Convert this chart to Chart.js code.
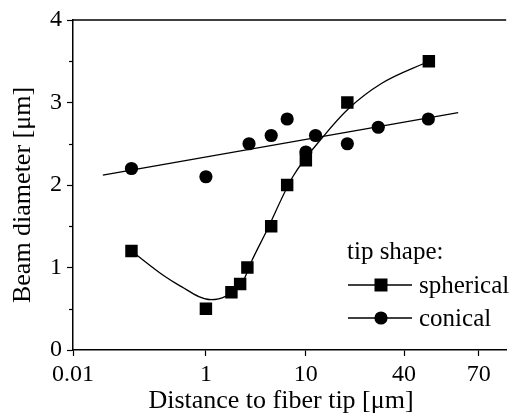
<!DOCTYPE html>
<html>
<head>
<meta charset="utf-8">
<script src="https://cdn.jsdelivr.net/npm/chart.js@4.4.0/dist/chart.umd.min.js"></script>
<style>
  html, body { margin: 0; padding: 0; background: #fff; }
  #wrap { width: 515px; height: 414px; }
</style>
</head>
<body>
<div id="wrap"><canvas id="myChart" width="515" height="414"></canvas></div>
<script>
// measured points, distance in um (log axis)
const sphericalX = [0.18, 1.0, 1.8, 2.2, 2.6, 4.5, 6.5, 10, 26, 170];
const sphericalY = [1.2, 0.5, 0.7, 0.8, 1.0, 1.5, 2.0, 2.3, 3.0, 3.5];
const conicalX = [0.18, 1.0, 2.7, 4.5, 6.5, 10, 12.5, 26, 53, 168];
const conicalY = [2.2, 2.1, 2.5, 2.6, 2.8, 2.4, 2.6, 2.5, 2.7, 2.8];

// fit curves
const sphFitX = [0.18, 0.39, 0.53, 1.12, 1.57, 2.3, 2.9, 4.0, 7.4, 15, 27, 57, 170];
const sphFitY = [1.2, 0.89, 0.79, 0.61, 0.65, 0.81, 1.09, 1.43, 2.1, 2.59, 2.93, 3.23, 3.5];
const conFitX = [0.093, 334];
const conFitY = [2.12, 2.876];

// x tick positions and the labels printed under them
const xTickValues = [0.0468, 1, 10, 96, 538];
const xTickLabels = ["0.01", "1", "10", "40", "70"];
const yMinorTicks = [0.5, 1.5, 2.5, 3.5];

const xTitle = "Distance to fiber tip [μm]";
const yTitle = "Beam diameter [μm]";
const legendTitle = "tip shape:";

const FONT = "'Liberation Serif', 'Times New Roman', serif";

const toPoints = (xs, ys) => xs.map((x, i) => ({ x: x, y: ys[i] }));

// top frame line, minor y ticks, axis titles and the legend
const extras = {
  id: "extras",
  afterDraw(chart) {
    const ctx = chart.ctx;
    const area = chart.chartArea;
    const yScale = chart.scales.y;
    ctx.save();
    ctx.strokeStyle = "#000";
    ctx.lineWidth = 1.5;
    ctx.beginPath();
    ctx.moveTo(area.left, area.top);
    ctx.lineTo(area.right, area.top);
    ctx.stroke();

    ctx.lineWidth = 1.2;
    yMinorTicks.forEach((v) => {
      const py = Math.round(yScale.getPixelForValue(v)) + 0.5;
      ctx.beginPath();
      ctx.moveTo(area.left - 4, py);
      ctx.lineTo(area.left, py);
      ctx.stroke();
    });

    // axis titles
    ctx.fillStyle = "#000";
    ctx.font = "26px " + FONT;
    ctx.textBaseline = "alphabetic";
    ctx.textAlign = "center";
    ctx.fillText(xTitle, 281, 408);
    ctx.save();
    ctx.translate(30, 195);
    ctx.rotate(-Math.PI / 2);
    ctx.fillText(yTitle, 0, 0);
    ctx.restore();

    // legend
    ctx.textAlign = "left";
    ctx.font = "25px " + FONT;
    ctx.fillText(legendTitle, 347, 259);

    const rows = [
      { label: "spherical", y: 285, style: "rect" },
      { label: "conical", y: 318, style: "circle" },
    ];
    rows.forEach((r) => {
      ctx.lineWidth = 1.3;
      ctx.beginPath();
      ctx.moveTo(348, r.y);
      ctx.lineTo(412, r.y);
      ctx.stroke();
      if (r.style === "rect") {
        ctx.fillRect(374.5, r.y - 6.5, 13, 13);
      } else {
        ctx.beginPath();
        ctx.arc(381, r.y, 6.6, 0, Math.PI * 2);
        ctx.fill();
      }
      ctx.fillText(r.label, 419, r.y + 8);
    });
    ctx.restore();
  },
};

function renderChart() {
  const ctx = document.getElementById("myChart").getContext("2d");

  const myChart = new Chart(ctx, {
    type: "scatter",
    data: {
      datasets: [
        {
          label: "spherical fit",
          data: toPoints(sphFitX, sphFitY),
          showLine: true,
          cubicInterpolationMode: "monotone",
          borderColor: "#000",
          borderWidth: 1.3,
          pointRadius: 0,
        },
        {
          label: "conical fit",
          data: toPoints(conFitX, conFitY),
          showLine: true,
          borderColor: "#000",
          borderWidth: 1.3,
          pointRadius: 0,
        },
        {
          label: "spherical",
          data: toPoints(sphericalX, sphericalY),
          pointStyle: "rect",
          pointRadius: 8.8,
          backgroundColor: "#000",
          borderColor: "#000",
          borderWidth: 0,
        },
        {
          label: "conical",
          data: toPoints(conicalX, conicalY),
          pointStyle: "circle",
          pointRadius: 6.6,
          backgroundColor: "#000",
          borderColor: "#000",
          borderWidth: 0,
        },
      ],
    },
    options: {
      responsive: false,
      animation: false,
      layout: { padding: { top: 20, right: 1, left: 0, bottom: 0 } },
      plugins: {
        legend: { display: false },
        tooltip: { enabled: false },
      },
      scales: {
        x: {
          type: "logarithmic",
          min: 0.0468,
          max: 1010,
          afterBuildTicks: (scale) => {
            scale.ticks = xTickValues.map((v) => ({ value: v }));
          },
          afterFit: (scale) => {
            scale.height = 64;
          },
          ticks: {
            autoSkip: false,
            maxRotation: 0,
            padding: 4,
            color: "#000",
            font: { family: FONT, size: 24 },
            callback: (value, index) => xTickLabels[index],
          },
          grid: {
            drawOnChartArea: false,
            tickLength: 6,
            tickColor: "#000",
            tickWidth: 1.2,
          },
          border: { display: true, color: "#000", width: 1.5 },
          title: { display: false },
        },
        y: {
          min: 0,
          max: 4,
          afterFit: (scale) => {
            scale.width = 73;
          },
          ticks: {
            stepSize: 1,
            padding: 5,
            color: "#000",
            font: { family: FONT, size: 24 },
          },
          grid: {
            drawOnChartArea: false,
            tickLength: 6,
            tickColor: "#000",
            tickWidth: 1.2,
          },
          border: { display: true, color: "#000", width: 1.5 },
          title: { display: false },
        },
      },
    },
    plugins: [extras],
  });
}

renderChart();
</script>
</body>
</html>
